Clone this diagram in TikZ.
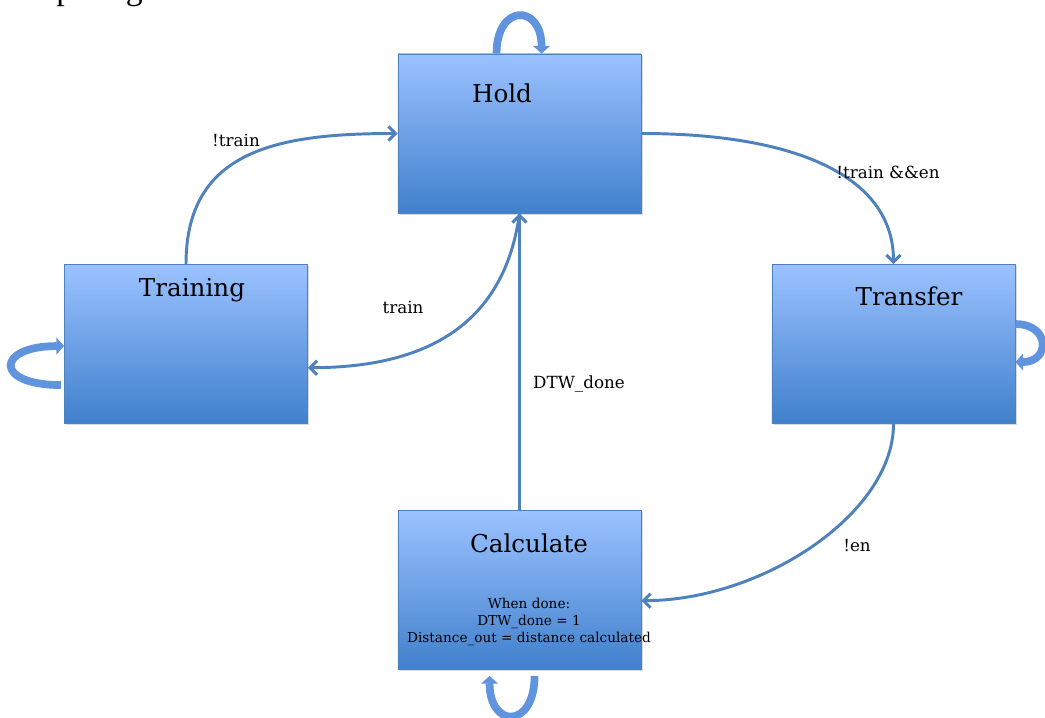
\documentclass[tikz,border=0pt]{standalone}
\usepackage{fontspec}
\setmainfont{DejaVu Serif}
\newfontfamily\pagefont{Liberation Serif}
\usetikzlibrary{arrows.meta,calc,shadows}

\definecolor{stateline}{RGB}{79,129,189}
\definecolor{statetop}{RGB}{155,194,255}
\definecolor{statebottom}{RGB}{64,128,204}
\definecolor{wireblue}{RGB}{79,129,189}
\definecolor{loopblue}{RGB}{96,148,222}

\tikzset{
  state/.style={draw=stateline, line width=0.6pt, top color=statetop, bottom color=statebottom,
    minimum width=6.075cm, minimum height=3.975cm, inner sep=0pt,
    drop shadow={shadow xshift=1.2pt, shadow yshift=-1.2pt, opacity=0.3}},
  title/.style={anchor=base, inner sep=0pt, font=\fontsize{17.5}{21}\selectfont},
  detail/.style={align=center, inner sep=0pt, font=\fontsize{9.7}{12.1}\selectfont},
  cond/.style={anchor=base, inner sep=0pt, font=\fontsize{11.9}{14}\selectfont},
  wire/.style={draw=wireblue, line width=2.1pt, ->},
  selfloop/.style={draw=loopblue, line width=5.5pt, -{Triangle[width=12pt,length=5.5pt]}}
}

\begin{document}
\begin{tikzpicture}[x=0.025cm, y=-0.025cm, >={Straight Barb[length=5pt,width=10pt]}]
\useasboundingbox (0,0) rectangle (1045,717);
\node[anchor=base west, inner sep=0pt, font=\pagefont\fontsize{24}{28}\selectfont] (pagetext) at (-2,-1) {computing the distance to be};

% states
\foreach \n/\x/\y in {hold/519.5/133.5, training/186/344, transfer/893.5/344, calc/519.5/590}
{
    \node[state] (\n) at (\x,\y) {};
}
\node[title] (holdname) at (502,102) {Hold};
\node[title] (trainingname) at (192,296) {Training};
\node[title] (transfername) at (909,305) {Transfer};
\node[title] (calcname) at (529,552) {Calculate};
\node[detail] (calcinfo) at (529,622) {When done:\\DTW\_done = 1\\Distance\_out = distance calculated};

% self loops
\draw[selfloop] ($(hold.north west)+(99,0)$) .. controls +(0,-50) and +(0,-50) .. ($(hold.north west)+(144,0)$);
\draw[selfloop] ($(training.north west)+(-3,121)$) .. controls +(-68,0) and +(-68,0) .. ($(training.north west)+(0,82)$);
\draw[selfloop] ($(transfer.north east)+(0,60)$) .. controls +(35,0) and +(35,0) .. ($(transfer.north east)+(0,98)$);
\draw[selfloop] ($(calc.south west)+(137,6)$) .. controls +(0,53) and +(0,53) .. ($(calc.south west)+(92,6)$);

% transitions
\draw[wire] (training.north) .. controls +(0,-115) and +(-118,0) .. (hold.west);
\draw[wire] (hold.south) .. controls +(-15,110) and +(120,0) .. (training.-11);
\draw[wire] (calc.north) -- (hold.south);
\draw[wire] (hold.east) .. controls +(150,0) and +(0,-90) .. (transfer.north);
\draw[wire] (transfer.south) .. controls +(0,90) and +(120,0) .. (calc.-5);

\node[cond] (nottrain) at (236,146) {!train};
\node[cond] (train) at (403,313) {train};
\node[cond] (dtwdone) at (579,388) {DTW\_done};
\node[cond] (nottrainen) at (888,178) {!train \&\&en};
\node[cond] (noten) at (857,551) {!en};
\end{tikzpicture}
\end{document}
